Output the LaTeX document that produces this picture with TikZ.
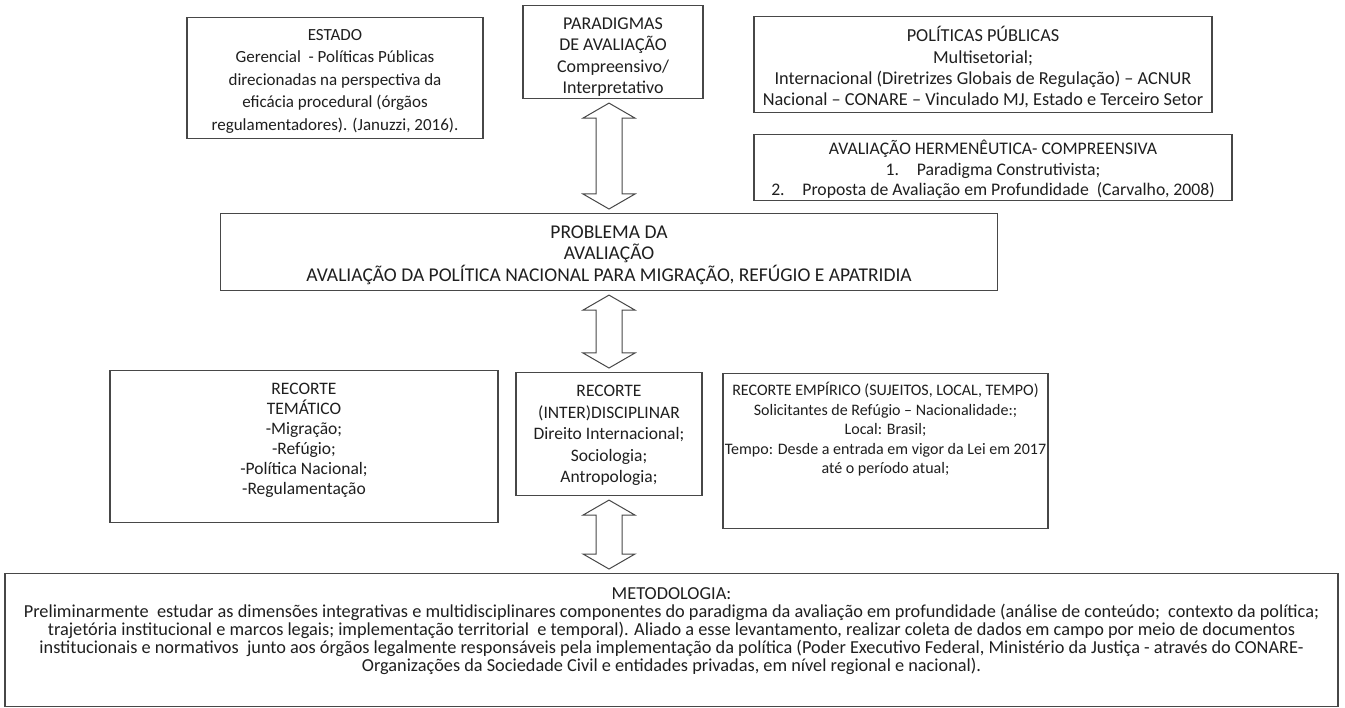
\documentclass[tikz,border=0pt]{standalone}
\usepackage{fontspec}
\setmainfont{Carlito}
\usetikzlibrary{calc}

\tikzset{
	box/.style={draw=black!72, line width=1.1pt, inner sep=0pt, anchor=north, text=black!88},
	dblarrow/.style={draw=black!72, line width=1pt, fill=white, line join=miter},
	rowfont/.style={font=\fontsize{17.5}{20}\selectfont},
}
% width, height, top pad, text
\newcommand{\boxtxt}[4]{\parbox[c][#2][t]{#1}{\lineskiplimit=-20pt\centering\vspace*{#3}\strut#4}}

\begin{document}
\begin{tikzpicture}[x=1pt, y=-1pt]
	\useasboundingbox[fill=white] (0,0) rectangle (1345,708);
	\coordinate (axis) at (609,0);
	\node[box, font=\fontsize{17}{22.5}\selectfont] (EST) at (335,17) {\boxtxt{296pt}{121pt}{7pt}{ESTADO\\ Gerencial \ - Políticas Públicas\\ direcionadas na perspectiva da\\ eficácia procedural (órgãos\\ regulamentadores). (Januzzi, 2016).}};
	\node[box, font=\fontsize{18}{21.3}\selectfont] (PAR) at (613,5) {\boxtxt{180pt}{93pt}{9pt}{PARADIGMAS\\ DE AVALIAÇÃO\\ Compreensivo/\\ Interpretativo}};
	\node[box, font=\fontsize{18.3}{21.3}\selectfont] (POL) at (983,16) {\boxtxt{458pt}{96pt}{10pt}{POLÍTICAS PÚBLICAS\\ Multisetorial;\\ Internacional (Diretrizes Globais de Regulação) – ACNUR\\ Nacional – CONARE – Vinculado MJ, Estado e Terceiro Setor}};
	\node[box, font=\fontsize{17.7}{20.5}\selectfont] (AVH) at (993,134) {\boxtxt{478pt}{66pt}{5.5pt}{AVALIAÇÃO HERMENÊUTICA- COMPREENSIVA\\ 1.\quad Paradigma Construtivista;\\ 2.\quad Proposta de Avaliação em Profundidade \ (Carvalho, 2008)}};
	\node[box, font=\fontsize{19.5}{21.5}\selectfont] (PROB) at (609,213) {\boxtxt{777pt}{77pt}{9.5pt}{PROBLEMA DA\\ AVALIAÇÃO\\ AVALIAÇÃO DA POLÍTICA NACIONAL PARA MIGRAÇÃO, REFÚGIO E APATRIDIA}};
	\node[box, rowfont] (TEM) at (304,370) {\boxtxt{388pt}{152pt}{10pt}{RECORTE\\ TEMÁTICO\\ -Migração;\\ -Refúgio;\\ -Política Nacional;\\ -Regulamentação}};
	\node[box, font=\fontsize{17.5}{21.5}\selectfont] (INT) at (609,372) {\boxtxt{186pt}{123pt}{9pt}{RECORTE\\ (INTER)DISCIPLINAR\\ Direito Internacional;\\ Sociologia;\\ Antropologia;}};
	\node[box, font=\fontsize{16}{19.5}\selectfont] (EMP) at (885.5,373) {\boxtxt{325pt}{155pt}{8.5pt}{RECORTE EMPÍRICO (SUJEITOS, LOCAL, TEMPO)\\ Solicitantes de Refúgio – Nacionalidade:;\\ Local: Brasil;\\ Tempo: Desde a entrada em vigor da Lei em 2017\\ até o período atual;}};
	\node[box, font=\fontsize{18.3}{18}\selectfont] (MET) at (671.5,573) {\boxtxt{1333pt}{133pt}{13pt}{METODOLOGIA:\\ Preliminarmente \ estudar as dimensões integrativas e multidisciplinares componentes do paradigma da avaliação em profundidade (análise de conteúdo; \ contexto da política;\\ trajetória institucional e marcos legais; implementação territorial \ e temporal). Aliado a esse levantamento, realizar coleta de dados em campo por meio de documentos\\ institucionais e normativos \ junto aos órgãos legalmente responsáveis pela implementação da política (Poder Executivo Federal, Ministério da Justiça - através do CONARE-\\ Organizações da Sociedade Civil e entidades privadas, em nível regional e nacional).}};
	% double arrows between the blocks
	\foreach \a/\b in {PAR/PROB, PROB/INT, INT/MET}
		\draw[dblarrow] let \p0=(axis), \p1=(\a.south), \p2=(\b.north) in
			(\x0,\y1-4pt) -- (\x0+26pt,\y1-19pt) -- (\x0+13pt,\y1-19pt) -- (\x0+13pt,\y2+19pt)
			-- (\x0+26pt,\y2+19pt) -- (\x0,\y2+4pt) -- (\x0-26pt,\y2+19pt) -- (\x0-13pt,\y2+19pt)
			-- (\x0-13pt,\y1-19pt) -- (\x0-26pt,\y1-19pt) -- cycle;
\end{tikzpicture}
\end{document}
